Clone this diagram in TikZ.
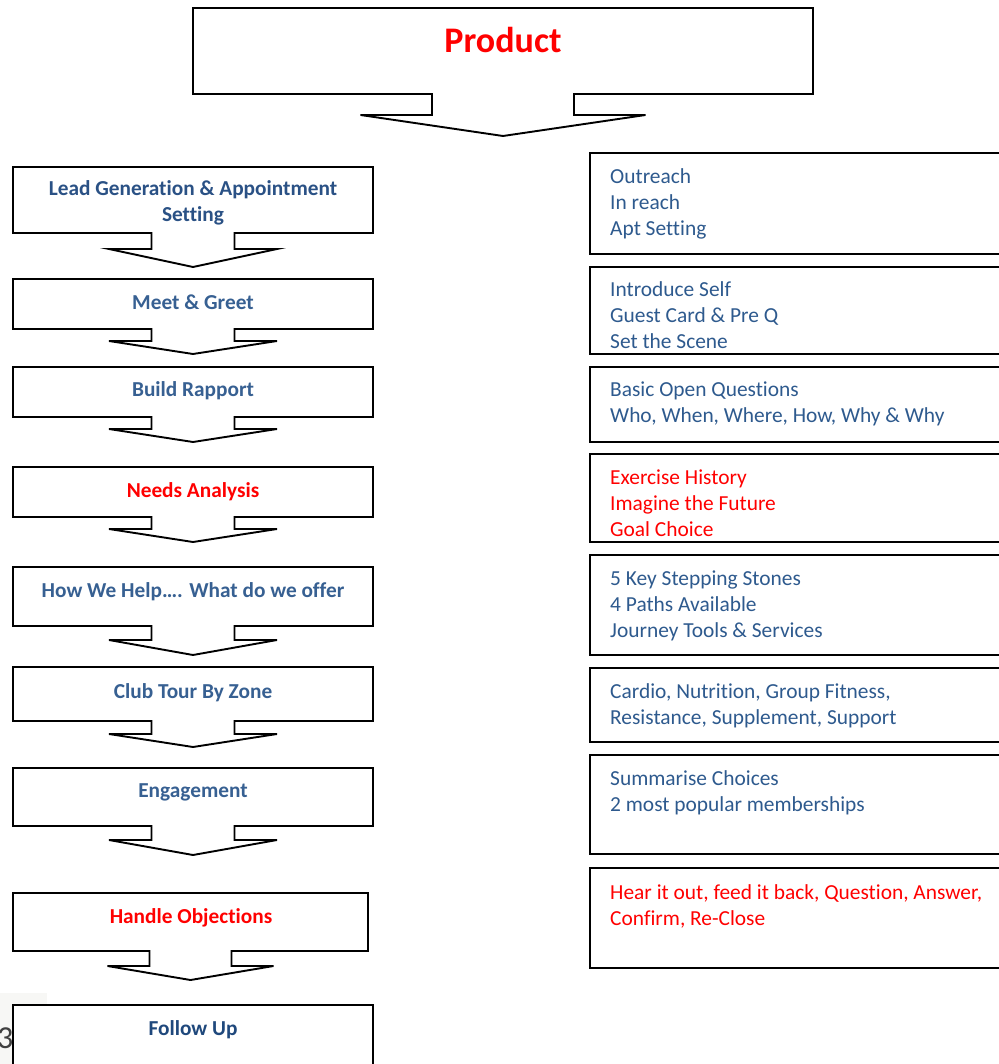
\documentclass[tikz,border=0pt]{standalone}
\usepackage{fontspec}
\setmainfont{Carlito}[Ligatures={NoCommon,NoRare,NoContextual}]
\usetikzlibrary{calc}
\definecolor{stepblue}{HTML}{376092}
\definecolor{leadblue}{HTML}{2A5185}
\definecolor{followblue}{HTML}{1F487C}
\definecolor{noteblue}{HTML}{2E5A8E}
\definecolor{hotred}{HTML}{FF0000}
\definecolor{pagegray}{HTML}{F7F7F5}
\definecolor{pagenum}{HTML}{404040}
% multi-line text whose baseline is that of its first line
\newcommand{\leftlines}[1]{\begin{tabular}[t]{@{}l@{}}#1\end{tabular}}
\newcommand{\midlines}[1]{\begin{tabular}[t]{@{}c@{}}#1\end{tabular}}
% outline of a box with a downward arrow tab: name, stem half width,
% wing half width, stem depth, tip depth
\newcommand{\tabbox}[5]{%
  \draw[outline] (#1.north west) -- (#1.north east) -- (#1.south east)
    -- ($(#1.south)+(#2,0)$) -- ($(#1.south)+(#2,#4)$) -- ($(#1.south)+(#3,#4)$)
    -- ($(#1.south)+(0,#4+#5)$) -- ($(#1.south)+(-#3,#4)$) -- ($(#1.south)+(-#2,#4)$)
    -- ($(#1.south)+(-#2,0)$) -- (#1.south west) -- cycle;}
\begin{document}
\begin{tikzpicture}[x=1pt,y=-1pt,
  outline/.style={draw=black, line width=1.9pt, fill=white, line join=miter},
  frame/.style={inner sep=0pt, outer sep=0pt, draw=none},
  notebox/.style={inner sep=0pt, outer sep=0pt, draw=black, line width=1.9pt, fill=white, anchor=north west, minimum width=430pt},
  steplabel/.style={anchor=base, inner sep=0pt, font=\bfseries\fontsize{21.3}{26}\selectfont, text=stepblue},
  notetext/.style={anchor=base west, inner sep=0pt, font=\fontsize{21.4}{26}\selectfont, text=noteblue}]
\useasboundingbox (0,0) rectangle (998,1064);
\fill[white] (0,0) rectangle (998,1064);

% page corner with a page number
\fill[pagegray] (0,993) rectangle (47,1064);
\node[anchor=base west, inner sep=0pt, font=\fontsize{32}{38}\selectfont, text=pagenum] (pageno) at (-3,1048) {3};

% heading
\node[frame, minimum width=620pt, minimum height=86pt, anchor=north] (product) at (503,8) {};
\tabbox{product}{71}{142.5}{21}{21}
\node[anchor=base, inner sep=0pt, font=\bfseries\fontsize{36}{42}\selectfont, text=hotred] (producttxt) at (503,53) {Product};

% left column: the steps
\node[frame, minimum width=360pt, minimum height=66pt, anchor=north] (lead) at (193,167) {};
\tabbox{lead}{41.5}{84}{16}{18}
\node[steplabel, text=leadblue] (leadtxt) at (193,196) {\midlines{Lead Generation \& Appointment\\Setting}};

\node[frame, minimum width=360pt, minimum height=50pt, anchor=north] (meet) at (193,279) {};
\tabbox{meet}{41.5}{84}{12}{13}
\node[steplabel] (meettxt) at (193,309) {Meet \& Greet};

\node[frame, minimum width=360pt, minimum height=50pt, anchor=north] (rapport) at (193,367) {};
\tabbox{rapport}{41.5}{84}{12}{13}
\node[steplabel] (rapporttxt) at (193,396) {Build Rapport};

\node[frame, minimum width=360pt, minimum height=50pt, anchor=north] (needs) at (193,467) {};
\tabbox{needs}{41.5}{84}{12}{13}
\node[steplabel, text=hotred] (needstxt) at (193,497) {Needs Analysis};

\node[frame, minimum width=360pt, minimum height=59pt, anchor=north] (help) at (193,567) {};
\tabbox{help}{41.5}{84}{14}{15}
\node[steplabel] (helptxt) at (193,597) {How We Help…. What do we offer};

\node[frame, minimum width=360pt, minimum height=54pt, anchor=north] (tour) at (193,667) {};
\tabbox{tour}{41.5}{84}{13}{13}
\node[steplabel] (tourtxt) at (193,698) {Club Tour By Zone};

\node[frame, minimum width=360pt, minimum height=58pt, anchor=north] (engage) at (193,768) {};
\tabbox{engage}{41.5}{84}{14}{15}
\node[steplabel] (engagetxt) at (193,797) {Engagement};

\node[frame, minimum width=355pt, minimum height=58pt, anchor=north] (handle) at (190.5,893) {};
\tabbox{handle}{41}{83}{15}{14}
\node[steplabel, text=hotred] (handletxt) at (191,923) {Handle Objections};

\node[frame, minimum width=360pt, minimum height=80pt, anchor=north, draw=black, line width=1.9pt, fill=white] (follow) at (193,1005) {};
\node[steplabel, text=followblue] (followtxt) at (193,1035) {Follow Up};

% right column: what each step covers
\node[notebox, minimum height=101pt] (reachbox) at (590,153) {};
\node[notetext] (reachtxt) at (610,184) {\leftlines{Outreach\\In reach\\Apt Setting}};

\node[notebox, minimum height=87pt] (greetbox) at (590,267) {};
\node[notetext] (greettxt) at (610,296) {\leftlines{Introduce Self\\Guest Card \& Pre Q\\Set the Scene}};

\node[notebox, minimum height=75pt] (askbox) at (590,367) {};
\node[notetext] (asktxt) at (610,396) {\leftlines{Basic Open Questions\\Who, When, Where, How, Why \& Why}};

\node[notebox, minimum height=88pt] (historybox) at (590,454) {};
\node[notetext, text=hotred] (historytxt) at (610,484) {\leftlines{Exercise History\\Imagine the Future\\Goal Choice}};

\node[notebox, minimum height=100pt] (offerbox) at (590,555) {};
\node[notetext] (offertxt) at (610,585) {\leftlines{5 Key Stepping Stones\\4 Paths Available\\Journey Tools \& Services}};

\node[notebox, minimum height=74pt] (zonebox) at (590,668) {};
\node[notetext] (zonetxt) at (610,698) {\leftlines{Cardio, Nutrition, Group Fitness,\\Resistance, Supplement, Support}};

\node[notebox, minimum height=99pt] (choicebox) at (590,755) {};
\node[notetext] (choicetxt) at (610,785) {\leftlines{Summarise Choices\\2 most popular memberships}};

\node[notebox, minimum height=100pt] (closebox) at (590,868) {};
\node[notetext, text=hotred] (closetxt) at (610,899) {\leftlines{Hear it out, feed it back, Question, Answer,\\Confirm, Re-Close}};
\end{tikzpicture}
\end{document}
